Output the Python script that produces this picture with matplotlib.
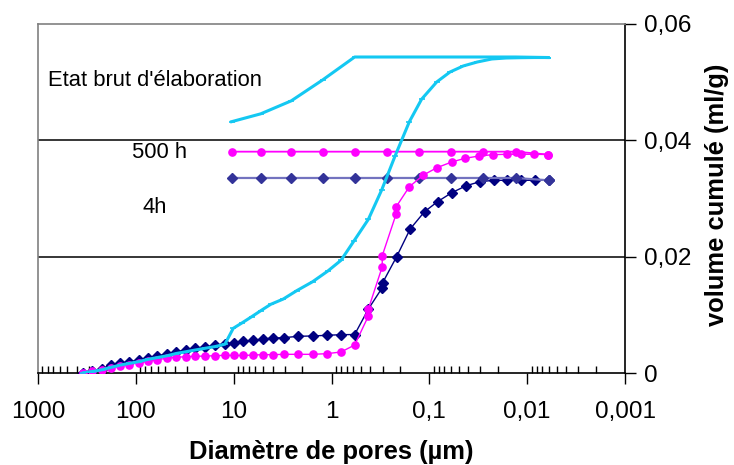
import matplotlib
matplotlib.use("Agg")
import matplotlib.pyplot as plt
from matplotlib.ticker import LogLocator, NullFormatter

plt.rcParams['font.family'] = ['Liberation Sans', 'DejaVu Sans']

# ---- data (diameter in µm, cumulative volume in ml/g) ----
d_brut_in = [344, 279, 223, 181, 145, 117, 93.5, 75.2, 60.4, 48.3, 38.8, 30.9, 24.7, 19.5, 15.4, 12.3,
             10.1, 8.16, 6.55, 5.29, 4.18, 3.11, 2.27, 1.56, 1.09, 0.80, 0.593, 0.42, 0.307, 0.224,
             0.160, 0.120, 0.0841, 0.0615, 0.045, 0.0324, 0.0230, 0.0164, 0.0118, 0.0085, 0.0061]
v_brut_in = [0.0001, 0.0003, 0.0006, 0.0010, 0.0014, 0.0017, 0.0020, 0.0024, 0.0027, 0.0030, 0.0034,
             0.0037, 0.0040, 0.0043, 0.0046, 0.0050,
             0.00773, 0.00869, 0.00972, 0.01075, 0.01185, 0.01276, 0.01419, 0.01573, 0.01757, 0.01941,
             0.02267, 0.02645, 0.03149, 0.03733, 0.04322, 0.04708, 0.05004, 0.05175, 0.05279, 0.05347,
             0.05399, 0.05416, 0.05421, 0.05424, 0.05424]
d_brut_out = [0.0061, 0.0131, 0.0281, 0.060, 0.127, 0.273, 0.58, 1.23, 2.58, 5.29, 10.5]
v_brut_out = [0.05424, 0.05433, 0.05433, 0.05433, 0.05433, 0.05433, 0.05433, 0.0504, 0.0468, 0.04457, 0.04322]

d_common = [344, 279, 223, 181, 145, 117, 93.5, 75.2, 60.4, 48.3, 38.8, 30.9, 24.7, 19.5, 15.4, 12.3,
            9.93, 7.97, 6.30, 5.05, 3.99, 3.06, 2.18, 1.56, 1.12, 0.80, 0.58]
v_500_low = [0.0001, 0.0004, 0.00062, 0.00091, 0.0012, 0.00148, 0.00182, 0.00206, 0.00234, 0.00258,
             0.00275, 0.00285, 0.00292, 0.00297, 0.00302, 0.00309, 0.00306, 0.00306, 0.00314, 0.0032,
             0.0032, 0.00326, 0.00326, 0.00326, 0.00337, 0.00366, 0.00486]
d_500_high = [0.42, 0.42, 0.303, 0.303, 0.218, 0.218, 0.160, 0.115, 0.0836, 0.059, 0.0432, 0.031,
              0.0225, 0.0162, 0.0116, 0.00845, 0.00617]
v_500_high = [0.00984, 0.01104, 0.01831, 0.0202, 0.02741, 0.02862, 0.03205, 0.03406, 0.03532, 0.0363,
              0.03693, 0.03733, 0.03755, 0.03762, 0.03762, 0.03762, 0.03758]
d_500_out = [0.00617, 0.0131, 0.0281, 0.060, 0.127, 0.273, 0.58, 1.23, 2.58, 5.29, 10.5]
v_500_out = [0.03758, 0.03807, 0.03807, 0.03807, 0.03807, 0.03807, 0.03807, 0.03807, 0.03807, 0.03807, 0.03807]

v_4h_low = [0.0001, 0.0004, 0.00079, 0.00137, 0.00172, 0.00199, 0.00228, 0.00268, 0.00302, 0.00332,
            0.00371, 0.0040, 0.00429, 0.00457, 0.00481, 0.00503, 0.00529, 0.0055, 0.00567, 0.00589,
            0.00606, 0.00612, 0.00636, 0.00641, 0.00653, 0.00663, 0.00666]
d_4h_high = [0.42, 0.303, 0.300, 0.216, 0.157, 0.112, 0.0825, 0.059, 0.042, 0.0305, 0.0220, 0.0159,
             0.0115, 0.0083, 0.0060]
v_4h_high = [0.01104, 0.0147, 0.01556, 0.02003, 0.02479, 0.02776, 0.02948, 0.03102, 0.03222, 0.03291,
             0.03315, 0.03315, 0.03315, 0.03315, 0.03315]
d_4h_out = [0.0060, 0.0131, 0.0281, 0.060, 0.127, 0.273, 0.58, 1.23, 2.58, 5.29, 10.5]
v_4h_out = [0.03315, 0.03355, 0.03355, 0.03355, 0.03355, 0.03355, 0.03355, 0.03355, 0.03355, 0.03355, 0.03355]

x_ticks = [1000, 100, 10, 1, 0.1, 0.01, 0.001]
x_tick_labels = ['1000', '100', '10', '1', '0,1', '0,01', '0,001']
y_ticks = [0, 0.02, 0.04, 0.06]
y_tick_labels = ['0', '0,02', '0,04', '0,06']

cyan = '#14C8F2'
magenta = '#FF00FF'
navy = '#000080'

fig = plt.figure(figsize=(7.34, 4.65), dpi=100)
ax = fig.add_axes([0.0518, 0.1972, 0.7997, 0.7512])

ax.set_xscale('log')
ax.set_xlim(1000, 0.001)
ax.set_ylim(0, 0.06)

for yv in y_ticks[1:3]:
    ax.axhline(yv, color='black', lw=1.1, zorder=1)

# 4h
ax.plot(d_common + d_4h_high, v_4h_low + v_4h_high, color=navy, lw=1.0, marker='D', ms=4.6,
        mfc=navy, mec=navy, zorder=3)
ax.plot(d_4h_out, v_4h_out, color='#7373BF', lw=1.6, marker='D', ms=4.6, mfc='#333399',
        mec='#333399', zorder=3)
# 500 h
ax.plot(d_common + d_500_high, v_500_low + v_500_high, color=magenta, lw=1.0, marker='o', ms=5.2,
        mfc=magenta, mec=magenta, zorder=4)
ax.plot(d_500_out, v_500_out, color=magenta, lw=1.3, marker='o', ms=5.2, mfc=magenta,
        mec=magenta, zorder=4)
# brut
ax.plot(d_brut_in, v_brut_in, color=cyan, lw=2.2, marker='_', ms=5, mew=1.2, zorder=5)
ax.plot(d_brut_out, v_brut_out, color=cyan, lw=2.2, marker='_', ms=5, mew=1.2, zorder=5)

# axes styling
ax.yaxis.tick_right()
ax.set_yticks(y_ticks)
ax.set_yticklabels(y_tick_labels)
ax.set_xticks(x_ticks)
ax.set_xticklabels(x_tick_labels)
ax.xaxis.set_minor_locator(LogLocator(base=10, subs=range(2, 10), numticks=20))
ax.xaxis.set_minor_formatter(NullFormatter())
ax.tick_params(axis='x', which='major', direction='out', length=8, width=1, pad=12,
               labelsize=17.5)
ax.tick_params(axis='x', which='minor', direction='in', length=5, width=1)
ax.tick_params(axis='y', which='major', direction='out', length=8, width=1, pad=6,
               labelsize=17.5, right=True, left=False)

for side in ['left', 'top']:
    ax.spines[side].set_color('#808080')
    ax.spines[side].set_linewidth(1.2)
for side in ['bottom', 'right']:
    ax.spines[side].set_color('black')
    ax.spines[side].set_linewidth(1.2)

ax.set_xlabel('Diamètre de pores (µm)', fontsize=18.4, fontweight='bold', labelpad=12)
fig.text(717 / 734, 1 - 195 / 465, 'volume cumulé (ml/g)', fontsize=18.4, fontweight='bold',
         rotation=90, ha='center', va='center')

fig.text(48 / 734, 1 - 80 / 465, "Etat brut d'élaboration", fontsize=15.8, va='center', ha='left')
fig.text(159 / 734, 1 - 152 / 465, "500 h", fontsize=15.8, va='center', ha='center')
fig.text(155 / 734, 1 - 207 / 465, "4h", fontsize=15.8, va='center', ha='center')

fig.savefig('out.png', dpi=100)
